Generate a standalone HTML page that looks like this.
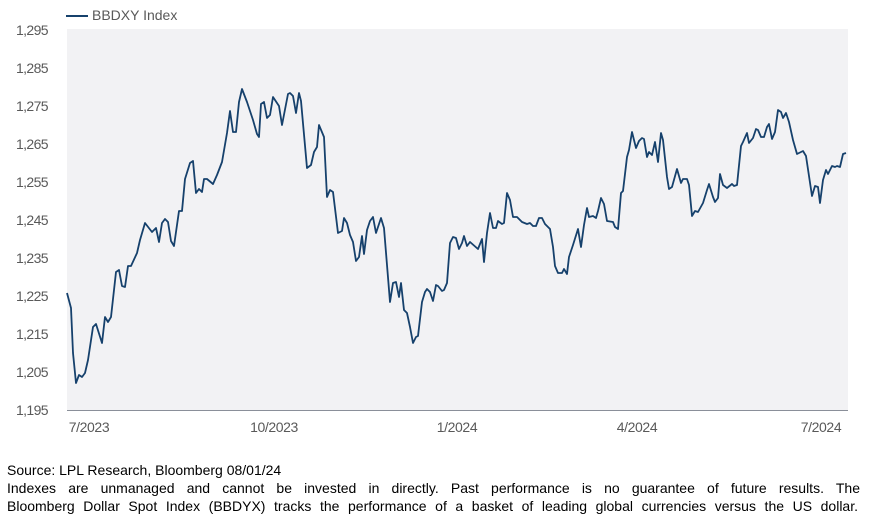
<!DOCTYPE html>
<html><head><meta charset="utf-8"><style>
body{margin:0;width:870px;height:528px;background:#fff;font-family:"Liberation Sans",Arial,sans-serif;overflow:hidden;position:relative}
.yl{position:absolute;left:0;width:48px;text-align:right;font-size:14px;color:#595959;letter-spacing:-0.6px}
.xl{position:absolute;top:419px;font-size:14px;color:#595959;transform:translateX(-50%);letter-spacing:-0.4px}
.ft{position:absolute;left:7px;width:853px;font-size:14px;color:#000;line-height:18px;white-space:nowrap}
.j{white-space:normal;text-align:justify;text-align-last:justify;word-spacing:-1px}
</style></head><body>
<svg width="870" height="528" style="position:absolute;left:0;top:0">
<rect x="67" y="29" width="781" height="381" fill="#f2f2f4"/>
<line x1="67" y1="410.5" x2="848" y2="410.5" stroke="#8a8f99" stroke-width="1"/>
<line x1="66" y1="16" x2="88" y2="16" stroke="#16416c" stroke-width="2"/>
<polyline fill="none" stroke="#16416c" stroke-width="1.8" stroke-linejoin="round" points="67,293 71,308 73,353 76,383 79,375 82,377 85,373 88,360 93,327 96,324 102,343 105,317 108,322 111,317 116,272 119,270 122,286 125,287 128,266 131,266 137,253 140,240 145,223 152,232 156,228 159,242 162,223 165,219 168,222 171,241 174,246 179,211 182,211 185,179 190,163 193,161 196,193 199,189 202,192 204,179 207,179 213,184 217,175 222,162 227,133 230,111 233,132 236,132 239,102 242,89 247,102 253,120 257,134 259,137 261,104 264,102 267,118 270,115 273,97 277,103 279,106 282,125 288,94 290,93 293,96 296,113 299,93 301,101 307,168 311,165 314,152 317,147 319,125 324,137 327,197 330,190 333,192 338,233 342,231 344,218 347,223 350,235 353,242 356,261 359,257 362,236 364,254 367,230 370,221 373,217 376,233 381,218 384,228 390,302 393,283 396,282 399,297 401,283 404,310 407,313 410,327 413,343 416,337 418,336 422,302 425,292 427,289 430,292 433,301 436,285 438,286 442,291 444,290 447,283 450,243 453,237 456,238 459,249 462,243 464,236 467,246 470,242 478,249 482,239 484,262 487,233 490,213 493,228 496,228 498,221 502,224 504,223 507,193 510,200 513,217 517,217 522,222 527,224 530,223 533,226 536,226 539,218 542,218 545,224 550,229 553,247 555,266 558,273 562,273 564,269 567,274 569,257 573,245 578,229 581,247 584,225 587,208 589,217 593,216 596,218 598,211 601,198 604,204 607,221 613,222 615,227 618,229 621,193 623,191 627,157 629,150 632,132 636,148 639,141 642,138 644,139 647,157 649,152 652,155 655,142 658,162 661,133 663,140 667,177 669,189 672,187 677,169 681,183 683,179 687,179 689,185 692,216 695,211 698,212 703,203 707,190 709,184 713,197 715,202 718,198 720,174 723,185 727,188 732,184 734,186 737,185 741,146 743,142 747,133 749,143 753,138 756,129 758,130 761,137 764,137 767,127 769,124 772,139 775,132 778,110 781,112 783,118 786,113 789,122 793,140 797,154 803,151 806,156 812,196 815,186 818,187 820,203 823,180 826,170 828,174 832,166 835,167 837,166 840,167 843,154 846,153"/>
</svg>
<div style="position:absolute;left:92px;top:7px;font-size:14px;color:#595959">BBDXY Index</div>
<div class="yl" style="top:22px">1,295</div>
<div class="yl" style="top:60px">1,285</div>
<div class="yl" style="top:98px">1,275</div>
<div class="yl" style="top:136px">1,265</div>
<div class="yl" style="top:174px">1,255</div>
<div class="yl" style="top:212px">1,245</div>
<div class="yl" style="top:250px">1,235</div>
<div class="yl" style="top:288px">1,225</div>
<div class="yl" style="top:326px">1,215</div>
<div class="yl" style="top:364px">1,205</div>
<div class="yl" style="top:402px">1,195</div>
<div class="xl" style="left:89px">7/2023</div>
<div class="xl" style="left:274px">10/2023</div>
<div class="xl" style="left:457px">1/2024</div>
<div class="xl" style="left:637px">4/2024</div>
<div class="xl" style="left:821px">7/2024</div>
<div class="ft" style="top:461px">Source: LPL Research, Bloomberg 08/01/24</div>
<div class="ft j" style="top:479px">Indexes are unmanaged and cannot be invested in directly. Past performance is no guarantee of future results. The</div>
<div class="ft j" style="top:497px;width:851px">Bloomberg Dollar Spot Index (BBDYX) tracks the performance of a basket of leading global currencies versus the US dollar.</div>
</body></html>
